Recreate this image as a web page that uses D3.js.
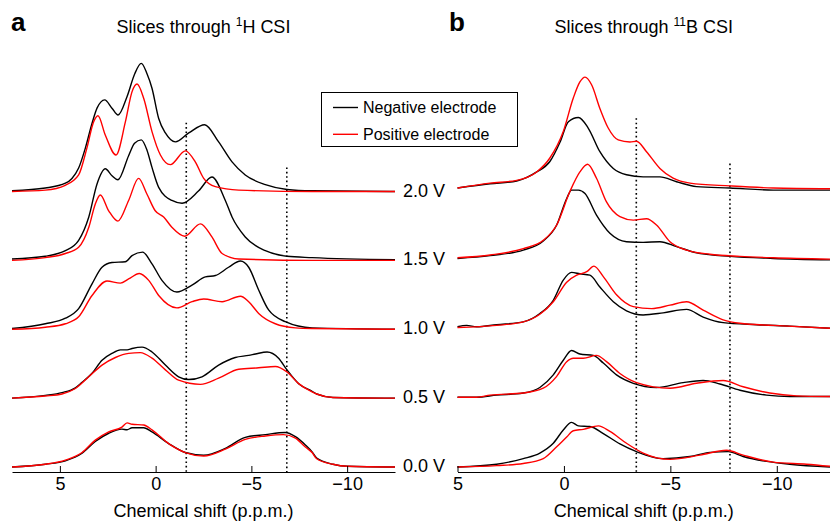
<!DOCTYPE html>
<html><head><meta charset="utf-8">
<script src="https://cdn.jsdelivr.net/npm/d3@7"></script>
<style>body{margin:0;background:#fff}svg{display:block;font-family:"Liberation Sans",Arial,Helvetica,sans-serif}</style>
</head><body>
<svg id="c" width="830" height="522"></svg>
<script>
// ---- data ----
const voltages = ["0.0 V","0.5 V","1.0 V","1.5 V","2.0 V"];
const ticksA = [5,0,-5,-10];
const ticksB = [5,0,-5,-10];
const domainA = [7.5,-12.5];
const domainB = [5,-12.5];
const refA = [-1.6,-6.85];
const refB = [-3.4,-7.8];
const refTop = [500,435];
const legendLabels = ["Negative electrode","Positive electrode"];

// panel a (1H) : [ppm, intensity] ; row spacing = 100
const a00n=[[7.5,0],[5.76,4],[4.71,9],[3.84,20],[3.15,37],[2.45,49],[1.76,55],[1.49,54],[1.23,57],[0.62,57],[0.19,51],[-0.68,34],[-1.55,21],[-2.51,17],[-3.64,27],[-4.68,43],[-5.73,47],[-6.77,50],[-7.3,44],[-7.82,32],[-8.17,22],[-8.41,13],[-9.26,4],[-10,1],[-12.5,0]];
const a00p=[[7.5,0],[5.76,4],[4.71,10],[3.84,21],[3.15,39],[2.45,51],[1.76,58],[1.49,64],[1.23,62],[0.62,61],[0.19,54],[-0.68,34],[-1.55,21],[-2.51,16],[-3.64,26],[-4.68,40],[-5.73,45],[-6.68,47],[-7.3,42],[-7.82,29],[-8.17,21],[-8.41,12],[-9.26,4],[-10,1],[-12.5,0]];
const a05n=[[7.5,0],[5.76,4],[4.89,8],[4.19,15],[3.84,23],[3.32,36],[2.8,55],[2.28,65],[1.84,70],[1.49,70],[1.23,72],[0.71,74],[0.19,67],[-0.51,48],[-1.2,31],[-1.73,27],[-2.42,31],[-3.29,48],[-4.16,59],[-4.86,62],[-5.21,64],[-5.82,67],[-6.42,58],[-6.86,41],[-7.47,21],[-8.17,10],[-8.41,6],[-9.26,1],[-12.5,0]];
const a05p=[[7.5,0],[5.76,3],[4.89,6],[4.19,14],[3.49,31],[2.8,48],[2.1,59],[1.41,65],[0.8,66],[0.19,58],[-0.51,41],[-1.2,26],[-2.34,20],[-3.29,29],[-4.34,42],[-5.38,44],[-6.25,46],[-6.86,38],[-7.47,21],[-8.17,9],[-8.41,6],[-9.26,1],[-12.5,0]];
const a10n=[[7.5,1],[5.76,8],[4.71,16],[4.02,30],[3.32,66],[2.8,90],[2.28,97],[1.58,98],[1.23,107],[0.68,112],[0.19,95],[-0.33,71],[-1.11,54],[-1.9,64],[-2.6,76],[-3.12,78],[-3.81,90],[-4.43,99],[-4.86,90],[-5.38,57],[-5.9,28],[-6.77,11],[-8.17,2],[-12.5,0]];
const a10p=[[7.5,0],[5.76,3],[4.71,8],[4.02,18],[3.32,49],[2.54,70],[1.84,67],[1.41,73],[0.85,81],[0.36,71],[-0.16,49],[-1.11,31],[-1.9,40],[-2.51,44],[-3.47,40],[-4.43,48],[-4.86,40],[-5.38,23],[-6.25,8],[-7.3,2],[-8.17,1],[-12.5,0]];
const a15n=[[7.5,2],[5.76,6],[4.71,14],[4.02,29],[3.49,63],[3.06,111],[2.63,133],[2.28,123],[1.97,117],[1.41,152],[1.1,170],[0.75,175],[0.45,160],[0.19,135],[-0.16,106],[-0.85,87],[-1.38,83],[-2.25,101],[-2.94,121],[-3.64,87],[-3.99,63],[-4.68,34],[-5.73,14],[-6.86,6],[-8.17,4],[-12.5,1]];
const a15p=[[7.5,0],[5.76,4],[4.71,10],[4.02,19],[3.49,48],[3.15,82],[2.89,95],[2.45,72],[1.97,57],[1.41,87],[0.89,119],[0.45,96],[0.02,72],[-0.42,63],[-0.85,48],[-1.52,35],[-2.34,53],[-2.94,34],[-3.47,10],[-4.34,2],[-8.17,0],[-12.5,0]];
const a20n=[[7.5,1],[5.76,5],[4.71,12],[4.37,19],[4.02,34],[3.67,63],[3.32,99],[3.06,121],[2.66,133],[2.28,121],[1.96,111],[1.49,138],[1.09,171],[0.75,186],[0.45,171],[0.19,150],[-0.16,106],[-0.51,85],[-1.03,72],[-1.73,85],[-2.56,97],[-3.29,72],[-3.99,43],[-4.68,24],[-5.73,10],[-6.86,3],[-8.17,1],[-12.5,0]];
const a20p=[[7.5,0],[5.76,2],[4.72,9],[4.02,24],[3.59,63],[3.24,101],[3.01,110],[2.63,82],[2.07,53],[1.58,101],[1.23,145],[0.97,156],[0.62,135],[0.19,87],[-0.25,53],[-0.77,39],[-1.55,59],[-2.07,43],[-2.51,19],[-3.12,7],[-4.34,2],[-8.17,0],[-12.5,0]];

// panel b (11B)
const b00n=[[5,0],[3.16,4],[1.91,12],[1.13,20],[0.5,34],[0.03,53],[-0.36,64],[-0.68,59],[-1.22,58],[-1.85,48],[-2.63,33],[-3.41,22],[-4.66,12],[-5.92,15],[-6.86,21],[-7.72,22],[-8.42,15],[-9.52,8],[-10.61,4],[-12.5,0]];
const b00p=[[5,0],[3.16,2],[1.91,5],[0.97,12],[0.34,29],[-0.13,43],[-0.44,52],[-0.91,54],[-1.62,59],[-2.16,51],[-2.94,34],[-3.72,20],[-4.98,11],[-6.39,17],[-7.64,24],[-8.42,17],[-9.83,7],[-11.39,4],[-12.5,1]];
const b05n=[[5,0],[4.1,0],[3.16,3],[1.91,6],[1.13,14],[0.5,32],[0.03,53],[-0.36,67],[-0.75,62],[-1.38,60],[-1.85,49],[-2.47,32],[-3.26,20],[-4.35,14],[-5.6,21],[-6.54,24],[-7.33,19],[-8.27,10],[-9.52,3],[-10.61,1],[-12.5,1]];
const b05p=[[5,0],[4.1,0],[3.47,3],[1.91,6],[0.97,13],[0.34,30],[-0.13,51],[-0.44,56],[-0.91,56],[-1.53,60],[-2,51],[-2.63,34],[-3.41,21],[-4.98,13],[-6.23,20],[-7.48,24],[-8.42,15],[-9.67,6],[-10.93,2],[-12.5,1]];
const b10n=[[5,1],[4.57,3],[4.1,1],[3.16,4],[1.91,8],[1.13,20],[0.5,39],[0.03,68],[-0.36,79],[-0.75,77],[-1.22,75],[-1.69,58],[-2.32,37],[-2.94,24],[-3.72,18],[-4.66,21],[-5.76,26],[-6.54,15],[-7.48,7],[-9.05,4],[-10.61,2],[-12.5,-1]];
const b10p=[[5,0],[3.16,3],[1.91,8],[1.13,19],[0.5,37],[-0.13,65],[-0.6,75],[-1.07,80],[-1.41,88],[-1.85,73],[-2.47,47],[-3.26,30],[-4.12,27],[-4.98,32],[-5.76,37],[-6.54,25],[-7.48,11],[-8.27,6],[-9.83,3],[-12.5,-1]];
const b15n=[[5,-1],[3.47,3],[1.91,11],[0.97,24],[0.34,47],[-0.13,85],[-0.36,97],[-0.68,97],[-0.99,92],[-1.53,61],[-2.16,35],[-2.94,23],[-3.72,22],[-4.51,23],[-5.29,16],[-6.23,7],[-7.8,2],[-9.83,-1],[-12.5,-3]];
const b15p=[[5,0],[3.47,4],[1.91,13],[0.97,25],[0.34,47],[-0.28,95],[-0.75,123],[-1.11,134],[-1.53,114],[-2,80],[-2.63,59],[-3.26,54],[-3.88,56],[-4.35,47],[-4.98,23],[-5.76,11],[-6.86,5],[-8.27,2],[-9.83,0],[-12.5,-2]];
const b20n=[[5,0],[3.47,6],[2.22,10],[1.28,23],[0.66,38],[0.18,66],[-0.21,95],[-0.68,101],[-1.14,86],[-1.69,52],[-2.32,28],[-2.94,19],[-3.72,16],[-4.51,16],[-5.29,9],[-6.23,2],[-7.8,0],[-9.83,-3],[-12.5,-3]];
const b20p=[[5,0],[3.47,7],[2.22,11],[1.28,23],[0.66,43],[0.03,81],[-0.44,129],[-0.75,152],[-0.99,159],[-1.3,148],[-1.69,114],[-2.08,86],[-2.55,69],[-3.1,66],[-3.41,67],[-3.88,52],[-4.51,28],[-5.13,14],[-5.92,7],[-7.8,3],[-9.83,0],[-12.5,-1]];

const negA=[a00n,a05n,a10n,a15n,a20n], posA=[a00p,a05p,a10p,a15p,a20p];
const negB=[b00n,b05n,b10n,b15n,b20n], posB=[b00p,b05p,b10p,b15p,b20p];

// ---- drawing ----
const svg = d3.select("#c");
const FONT = 18;
const axisY = 472;
const xA = d3.scaleLinear().domain(domainA).range([12,395]);
const xB = d3.scaleLinear().domain(domainB).range([457.5,830]);
const yA = d3.scaleLinear().domain([0,400]).range([467,191.5]);
const yB = d3.scaleLinear().domain([0,400]).range([467,188]);
const colors = ["#000000","#ff0000"];

function panel(x, y, neg, pos, refs, ticks, title, sup, rest, letter, letterX){
  const g = svg.append("g");
  refs.forEach((r,i)=>{
    g.append("line").attr("x1",x(r)).attr("x2",x(r))
      .attr("y1",y(refTop[i])).attr("y2",axisY)
      .attr("stroke","#000").attr("stroke-width",1.6).attr("stroke-dasharray","1.6,2.8");
  });
  [neg,pos].forEach((set,k)=>{
    set.forEach((d,row)=>{
      const line = d3.line().x(p=>x(p[0])).y(p=>y(row*100+p[1])).curve(d3.curveMonotoneX);
      g.append("path").attr("d",line(d)).attr("fill","none")
        .attr("stroke",colors[k]).attr("stroke-width",1.4).attr("stroke-linejoin","round");
    });
  });
  const ax = g.append("g").attr("transform",`translate(0,${axisY})`)
    .call(d3.axisBottom(x).tickValues(ticks).tickSizeInner(-6).tickSizeOuter(0).tickPadding(5));
  ax.select(".domain").attr("stroke","#000").attr("stroke-width",1);
  ax.selectAll(".tick line").attr("stroke","#000");
  ax.selectAll("text").attr("font-size",FONT).attr("font-family","Liberation Sans, Arial, sans-serif").attr("fill","#000");
  const cx = (x.range()[0]+x.range()[1])/2;
  g.append("text").attr("x",cx).attr("y",517).attr("text-anchor","middle").attr("font-size",FONT)
    .text("Chemical shift (p.p.m.)");
  const t = g.append("text").attr("x",cx).attr("y",33).attr("text-anchor","middle").attr("font-size",FONT);
  t.append("tspan").text(title);
  t.append("tspan").attr("font-size",12).attr("dy",-7).text(sup);
  t.append("tspan").attr("dy",7).text(rest);
  svg.append("text").attr("x",letterX).attr("y",31).attr("font-size",26).attr("font-weight","bold").text(letter);
}

panel(xA,yA,negA,posA,refA,ticksA,"Slices through ","1","H CSI","a",11);
panel(xB,yB,negB,posB,refB,ticksB,"Slices through ","11","B CSI","b",449);

voltages.forEach((v,i)=>{
  svg.append("text").attr("x",445).attr("y",yA(i*100)+5).attr("text-anchor","end")
    .attr("font-size",FONT).text(v);
});

const lg = svg.append("g");
lg.append("rect").attr("x",321.5).attr("y",92.5).attr("width",196).attr("height",54)
  .attr("fill","#fff").attr("stroke","#000").attr("stroke-width",1);
legendLabels.forEach((l,i)=>{
  const yy = 107.5 + i*26.8;
  lg.append("line").attr("x1",333).attr("x2",358).attr("y1",yy).attr("y2",yy)
    .attr("stroke",colors[i]).attr("stroke-width",1.4);
  lg.append("text").attr("x",363).attr("y",yy+5.5).attr("font-size",16).text(l);
});
</script>
</body></html>
